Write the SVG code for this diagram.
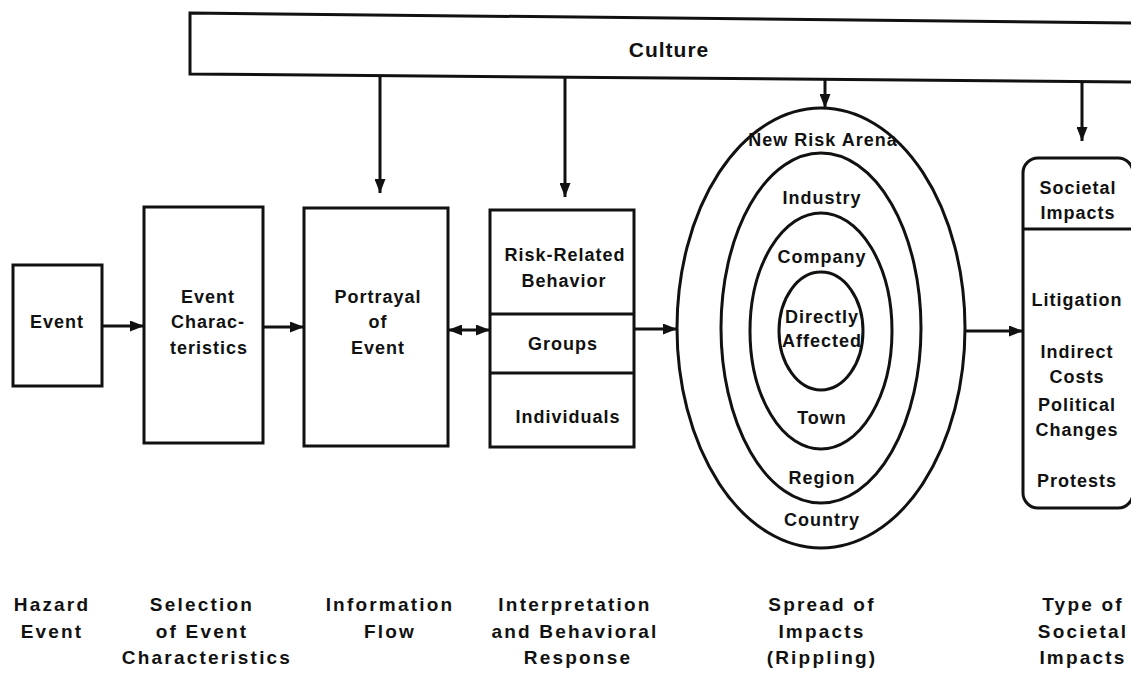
<svg xmlns="http://www.w3.org/2000/svg" width="1131" height="673" viewBox="0 0 1131 673">
<style>
.ln{fill:none;stroke:#111;stroke-width:3}
.bx{fill:#fff;stroke:#111;stroke-width:3}
.t{font-family:"Liberation Sans",Arial,sans-serif;font-weight:bold;font-size:18px;fill:#111;text-anchor:middle;letter-spacing:1px}
.b{font-family:"Liberation Sans",Arial,sans-serif;font-weight:bold;font-size:19px;fill:#111;text-anchor:middle;letter-spacing:2.2px}
.c{font-family:"Liberation Sans",Arial,sans-serif;font-weight:bold;font-size:21px;fill:#111;text-anchor:middle;letter-spacing:1px}
</style>
<defs>
<marker id="ah" viewBox="0 0 14 11" refX="14" refY="5.5" markerWidth="14" markerHeight="11" markerUnits="userSpaceOnUse" orient="auto-start-reverse">
<path d="M0,0 L14,5.5 L0,11 Z" fill="#111"/>
</marker>
</defs>
<g id="culture">
<polygon class="bx" points="190,13 1136,23 1136,82 190,74"/>
<text class="c" x="669" y="57">Culture</text>
</g>
<g id="event">
<rect class="bx" x="13" y="265" width="89" height="121"/>
<text class="t" x="57" y="328">Event</text>
</g>
<g id="event-characteristics">
<rect class="bx" x="144" y="207" width="119" height="236"/>
<text class="t" x="208" y="303">Event</text>
<text class="t" x="208" y="328">Charac-</text>
<text class="t" x="209" y="354" letter-spacing="2">teristics</text>
</g>
<g id="portrayal">
<rect class="bx" x="304" y="208" width="144" height="238"/>
<text class="t" x="378" y="303" letter-spacing="1.5">Portrayal</text>
<text class="t" x="378" y="328">of</text>
<text class="t" x="378" y="354">Event</text>
</g>
<g id="behavior">
<rect class="bx" x="490" y="210" width="144" height="237"/>
<line class="ln" x1="490" y1="314" x2="634" y2="314"/>
<line class="ln" x1="490" y1="373" x2="634" y2="373"/>
<text class="t" x="565" y="261" letter-spacing="1.8">Risk-Related</text>
<text class="t" x="564" y="287">Behavior</text>
<text class="t" x="563" y="350">Groups</text>
<text class="t" x="568" y="423">Individuals</text>
</g>
<g id="ripple">
<ellipse class="ln" cx="821" cy="328" rx="144" ry="220"/>
<ellipse class="ln" cx="821" cy="328" rx="100" ry="175"/>
<ellipse class="ln" cx="821" cy="331" rx="71" ry="118"/>
<ellipse class="ln" cx="821" cy="331" rx="42" ry="59"/>
<text class="t" x="823" y="146">New Risk Arena</text>
<text class="t" x="822" y="204">Industry</text>
<text class="t" x="822" y="263">Company</text>
<text class="t" x="822" y="323">Directly</text>
<text class="t" x="822" y="347">Affected</text>
<text class="t" x="822" y="424">Town</text>
<text class="t" x="822" y="484">Region</text>
<text class="t" x="822" y="526">Country</text>
</g>
<g id="societal">
<rect class="bx" x="1023" y="158" width="110" height="350" rx="15" ry="15"/>
<line class="ln" x1="1023" y1="229" x2="1133" y2="229"/>
<text class="t" x="1078" y="194" letter-spacing="1.5">Societal</text>
<text class="t" x="1078" y="219" letter-spacing="1.5">Impacts</text>
<text class="t" x="1077" y="306" letter-spacing="1.2">Litigation</text>
<text class="t" x="1077" y="358" letter-spacing="1.5">Indirect</text>
<text class="t" x="1077" y="383" letter-spacing="1.5">Costs</text>
<text class="t" x="1077" y="411" letter-spacing="1.5">Political</text>
<text class="t" x="1077" y="436">Changes</text>
<text class="t" x="1077" y="487" letter-spacing="1.5">Protests</text>
</g>
<g id="connectors">
<line class="ln" x1="380" y1="76" x2="380" y2="193" marker-end="url(#ah)"/>
<line class="ln" x1="565" y1="78" x2="565" y2="197" marker-end="url(#ah)"/>
<line class="ln" x1="825" y1="80" x2="825" y2="108" marker-end="url(#ah)"/>
<line class="ln" x1="1082" y1="82" x2="1082" y2="141" marker-end="url(#ah)"/>
<line class="ln" x1="102" y1="326" x2="144" y2="326" marker-end="url(#ah)"/>
<line class="ln" x1="263" y1="327" x2="304" y2="327" marker-end="url(#ah)"/>
<line class="ln" x1="448" y1="330" x2="490" y2="330" marker-start="url(#ah)" marker-end="url(#ah)"/>
<line class="ln" x1="634" y1="329" x2="677" y2="329" marker-end="url(#ah)"/>
<line class="ln" x1="965" y1="331" x2="1023" y2="331" marker-end="url(#ah)"/>
</g>
<g id="stage-labels">
<text class="b" x="52" y="611">Hazard</text>
<text class="b" x="52" y="638">Event</text>
<text class="b" x="202" y="611">Selection</text>
<text class="b" x="202" y="638">of Event</text>
<text class="b" x="207" y="664">Characteristics</text>
<text class="b" x="390" y="611">Information</text>
<text class="b" x="390" y="638">Flow</text>
<text class="b" x="575" y="611">Interpretation</text>
<text class="b" x="575" y="638">and Behavioral</text>
<text class="b" x="578" y="664">Response</text>
<text class="b" x="822" y="611">Spread of</text>
<text class="b" x="822" y="638">Impacts</text>
<text class="b" x="822" y="664">(Rippling)</text>
<text class="b" x="1083" y="611">Type of</text>
<text class="b" x="1083" y="638">Societal</text>
<text class="b" x="1083" y="664">Impacts</text>
</g>
</svg>
